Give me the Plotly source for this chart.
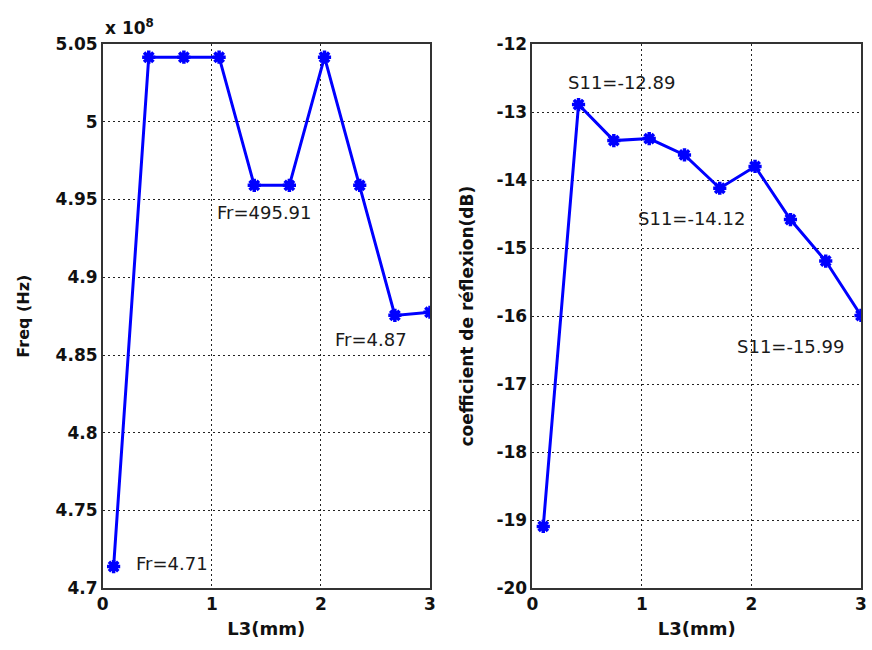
import plotly.graph_objects as go

# Data
L3_mm = [0.1, 0.422, 0.744, 1.067, 1.389, 1.711, 2.033, 2.356, 2.678, 3.0]
freq_hz = [4.714e8, 5.0415e8, 5.0415e8, 5.0415e8, 4.9591e8, 4.9591e8, 5.0415e8, 4.9591e8, 4.8755e8, 4.8775e8]
s11_db = [-19.09, -12.89, -13.42, -13.39, -13.63, -14.12, -13.80, -14.58, -15.19, -15.99]

freq_ticks = [4.7, 4.75, 4.8, 4.85, 4.9, 4.95, 5.0, 5.05]
freq_ticktext = ["4.7", "4.75", "4.8", "4.85", "4.9", "4.95", "5", "5.05"]
s11_ticks = [-20, -19, -18, -17, -16, -15, -14, -13, -12]
s11_ticktext = ["-20", "-19", "-18", "-17", "-16", "-15", "-14", "-13", "-12"]
x_ticks = [0, 1, 2, 3]

left_notes = [(0.287, 4.716, "Fr=4.71"), (1.03, 4.9414, "Fr=495.91"), (2.11, 4.860, "Fr=4.87")]
right_notes = [(0.307, -12.56, "S11=-12.89"), (0.944, -14.56, "S11=-14.12"), (1.848, -16.44, "S11=-15.99")]

scale = 1e8
freq_scaled = [f / scale for f in freq_hz]

W, H = 872, 650
fig = go.Figure()

line_style = dict(color="#0000FF", width=3)
marker_style = dict(symbol="asterisk-open", size=11, color="#0000FF", line=dict(color="#0000FF", width=3.5))

fig.add_trace(go.Scatter(x=L3_mm, y=freq_scaled, mode="lines+markers", line=line_style,
                         marker=marker_style, xaxis="x", yaxis="y", showlegend=False))
fig.add_trace(go.Scatter(x=L3_mm, y=s11_db, mode="lines+markers", line=line_style,
                         marker=marker_style, xaxis="x2", yaxis="y2", showlegend=False))

tickfont = dict(family="DejaVu Sans", size=17, color="#111")
grid = dict(showgrid=True, gridcolor="#222", griddash="2px,3px", gridwidth=1,
            showline=True, linecolor="#333", linewidth=1.5, mirror=True,
            zeroline=False, ticks="", tickfont=tickfont)

top_y = 1 - 44 / H
bot_y = 1 - 588.3 / H

fig.update_layout(
    width=W, height=H,
    margin=dict(l=0, r=0, t=0, b=0),
    paper_bgcolor="white", plot_bgcolor="white",
    font=dict(family="DejaVu Sans"),
    xaxis=dict(domain=[102.7 / W, 430 / W], range=[0, 3], tickvals=x_ticks,
               title=dict(text="<b>L3(mm)</b>", font=dict(family="DejaVu Sans", size=18, color="#111"), standoff=9),
               anchor="y", automargin=False, **grid),
    yaxis=dict(domain=[bot_y, top_y], range=[4.7, 5.05], tickvals=freq_ticks,
               ticktext=[f"<b>{t}</b>" for t in freq_ticktext],
               title=dict(text="<b>Freq (Hz)</b>", font=dict(family="DejaVu Sans", size=16, color="#111"), standoff=22),
               anchor="x", automargin=False, **grid),
    xaxis2=dict(domain=[532.3 / W, 861 / W], range=[0, 3], tickvals=x_ticks,
                title=dict(text="<b>L3(mm)</b>", font=dict(family="DejaVu Sans", size=18, color="#111"), standoff=9),
                anchor="y2", automargin=False, **grid),
    yaxis2=dict(domain=[bot_y, top_y], range=[-20, -12], tickvals=s11_ticks,
                ticktext=[f"<b>{t}</b>" for t in s11_ticktext],
                title=dict(text="<b>coefficient de réflexion(dB)</b>", font=dict(family="DejaVu Sans", size=17, color="#111"), standoff=18),
                anchor="x2", automargin=False, **grid),
)
fig.update_xaxes(ticktext=[f"<b>{t}</b>" for t in x_ticks])

notefont = dict(family="DejaVu Sans", size=18, color="#1a1a1a")
for x, y, t in left_notes:
    fig.add_annotation(x=x, y=y, xref="x", yref="y", text=t, showarrow=False,
                       xanchor="left", yanchor="middle", font=notefont)
for x, y, t in right_notes:
    fig.add_annotation(x=x, y=y, xref="x2", yref="y2", text=t, showarrow=False,
                       xanchor="left", yanchor="middle", font=notefont)

fig.add_annotation(x=102.7 / W, y=1 - 40 / H, xref="paper", yref="paper",
                   text="<b>x 10<sup>8</sup></b>", showarrow=False,
                   xanchor="left", yanchor="bottom", font=dict(family="DejaVu Sans", size=17, color="#111"))

fig.write_html("out.html")
